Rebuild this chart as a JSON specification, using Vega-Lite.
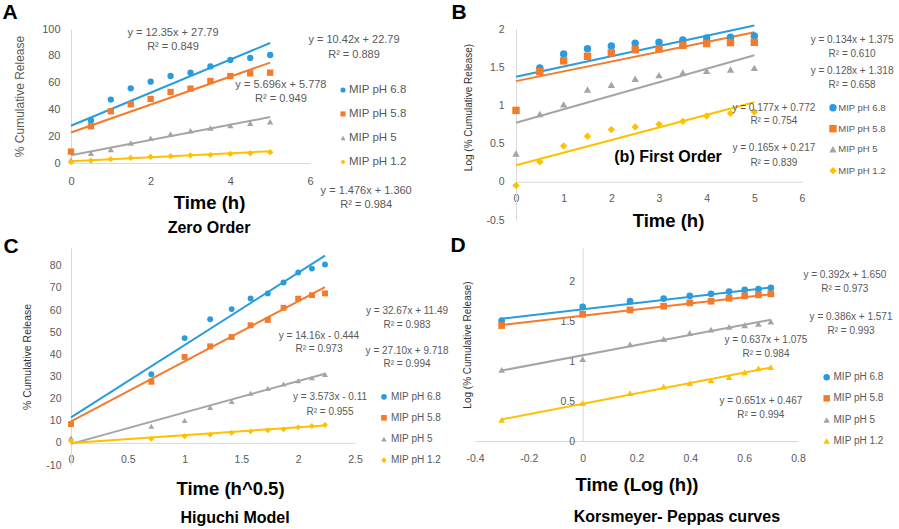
{
  "$schema": "https://vega.github.io/schema/vega-lite/v6.json",
  "autosize": {"type": "none"},
  "padding": {"left": 71, "top": 29, "right": 828, "bottom": 500},
  "background": "white",
  "config": {
    "view": {"stroke": null},
    "font": "Liberation Sans",
    "axis": {"grid": false, "ticks": false, "tickCount": 20, "labelOverlap": false, "labelFlush": false, "labelExpr": "'' + datum.value", "domainColor": "#D9D9D9", "domainWidth": 1, "labelColor": "#595959", "labelFont": "Liberation Sans", "titleFont": "Liberation Sans"}
  },
  "datasets": {
    "A_pts": [
      {"s": "MIP pH 6.8", "x": 0.5, "y": 31.8}, {"s": "MIP pH 6.8", "x": 1, "y": 47.3}, {"s": "MIP pH 6.8", "x": 1.5, "y": 55.7}, {"s": "MIP pH 6.8", "x": 2, "y": 60.7}, {"s": "MIP pH 6.8", "x": 2.5, "y": 64.9}, {"s": "MIP pH 6.8", "x": 3, "y": 67.4}, {"s": "MIP pH 6.8", "x": 3.5, "y": 72.1}, {"s": "MIP pH 6.8", "x": 4, "y": 76.9}, {"s": "MIP pH 6.8", "x": 4.5, "y": 78.4}, {"s": "MIP pH 6.8", "x": 5, "y": 80.6},
      {"s": "MIP pH 5.8", "x": 0, "y": 8.5}, {"s": "MIP pH 5.8", "x": 0.5, "y": 27.4}, {"s": "MIP pH 5.8", "x": 1, "y": 38.6}, {"s": "MIP pH 5.8", "x": 1.5, "y": 43.8}, {"s": "MIP pH 5.8", "x": 2, "y": 47.8}, {"s": "MIP pH 5.8", "x": 2.5, "y": 53.0}, {"s": "MIP pH 5.8", "x": 3, "y": 55.5}, {"s": "MIP pH 5.8", "x": 3.5, "y": 61.2}, {"s": "MIP pH 5.8", "x": 4, "y": 64.9}, {"s": "MIP pH 5.8", "x": 4.5, "y": 66.9}, {"s": "MIP pH 5.8", "x": 5, "y": 67.4},
      {"s": "MIP pH 5", "x": 0, "y": 2.3}, {"s": "MIP pH 5", "x": 0.5, "y": 7.2}, {"s": "MIP pH 5", "x": 1, "y": 10.0}, {"s": "MIP pH 5", "x": 1.5, "y": 15.0}, {"s": "MIP pH 5", "x": 2, "y": 18.4}, {"s": "MIP pH 5", "x": 2.5, "y": 21.6}, {"s": "MIP pH 5", "x": 3, "y": 24.1}, {"s": "MIP pH 5", "x": 3.5, "y": 26.1}, {"s": "MIP pH 5", "x": 4, "y": 27.9}, {"s": "MIP pH 5", "x": 4.5, "y": 29.6}, {"s": "MIP pH 5", "x": 5, "y": 30.8},
      {"s": "MIP pH 1.2", "x": 0, "y": 0.7}, {"s": "MIP pH 1.2", "x": 0.5, "y": 1.8}, {"s": "MIP pH 1.2", "x": 1, "y": 2.9}, {"s": "MIP pH 1.2", "x": 1.5, "y": 3.8}, {"s": "MIP pH 1.2", "x": 2, "y": 4.6}, {"s": "MIP pH 1.2", "x": 2.5, "y": 5.1}, {"s": "MIP pH 1.2", "x": 3, "y": 5.7}, {"s": "MIP pH 1.2", "x": 3.5, "y": 6.0}, {"s": "MIP pH 1.2", "x": 4, "y": 6.8}, {"s": "MIP pH 1.2", "x": 4.5, "y": 7.3}, {"s": "MIP pH 1.2", "x": 5, "y": 8.0}
    ],
    "A_lines": [
      {"s": "MIP pH 6.8", "x": 0, "y": 27.79}, {"s": "MIP pH 6.8", "x": 5, "y": 89.54},
      {"s": "MIP pH 5.8", "x": 0, "y": 22.79}, {"s": "MIP pH 5.8", "x": 5, "y": 74.89},
      {"s": "MIP pH 5", "x": 0, "y": 5.778}, {"s": "MIP pH 5", "x": 5, "y": 34.26},
      {"s": "MIP pH 1.2", "x": 0, "y": 1.36}, {"s": "MIP pH 1.2", "x": 5, "y": 8.74}
    ],
    "A_leg": [
      {"s": "MIP pH 6.8", "x": 6.829, "tx": 6.98, "y": 54.5}, {"s": "MIP pH 5.8", "x": 6.829, "tx": 6.98, "y": 36.6},
      {"s": "MIP pH 5", "x": 6.829, "tx": 6.98, "y": 18.7}, {"s": "MIP pH 1.2", "x": 6.829, "tx": 6.98, "y": 0.75}
    ],
    "A_eq": [
      {"x": 2.56, "y": 97.0, "t": "y = 12.35x + 27.79"}, {"x": 2.56, "y": 86.6, "t": "R² = 0.849"},
      {"x": 7.105, "y": 91.8, "t": "y = 10.42x + 22.79"}, {"x": 7.105, "y": 80.6, "t": "R² = 0.889"},
      {"x": 5.27, "y": 58.2, "t": "y = 5.696x + 5.778"}, {"x": 5.27, "y": 47.8, "t": "R² = 0.949"},
      {"x": 7.41, "y": -20.9, "t": "y = 1.476x + 1.360"}, {"x": 7.41, "y": -31.3, "t": "R² = 0.984"}
    ],
    "A_cap": [
      {"x": 3.465, "y": -48.5, "t": "Zero Order", "size": 16},
      {"x": -1.53, "y": 111.9, "t": "A", "size": 21}
    ],
    "B_pts": [
      {"s": "MIP pH 6.8", "x": 0.5, "y": 1.491}, {"s": "MIP pH 6.8", "x": 1, "y": 1.674}, {"s": "MIP pH 6.8", "x": 1.5, "y": 1.743}, {"s": "MIP pH 6.8", "x": 2, "y": 1.778}, {"s": "MIP pH 6.8", "x": 2.5, "y": 1.813}, {"s": "MIP pH 6.8", "x": 3, "y": 1.826}, {"s": "MIP pH 6.8", "x": 3.5, "y": 1.857}, {"s": "MIP pH 6.8", "x": 4, "y": 1.883}, {"s": "MIP pH 6.8", "x": 4.5, "y": 1.891}, {"s": "MIP pH 6.8", "x": 5, "y": 1.909},
      {"s": "MIP pH 5.8", "x": 0, "y": 0.935}, {"s": "MIP pH 5.8", "x": 0.5, "y": 1.443}, {"s": "MIP pH 5.8", "x": 1, "y": 1.583}, {"s": "MIP pH 5.8", "x": 1.5, "y": 1.643}, {"s": "MIP pH 5.8", "x": 2, "y": 1.687}, {"s": "MIP pH 5.8", "x": 2.5, "y": 1.730}, {"s": "MIP pH 5.8", "x": 3, "y": 1.739}, {"s": "MIP pH 5.8", "x": 3.5, "y": 1.787}, {"s": "MIP pH 5.8", "x": 4, "y": 1.809}, {"s": "MIP pH 5.8", "x": 4.5, "y": 1.822}, {"s": "MIP pH 5.8", "x": 5, "y": 1.826},
      {"s": "MIP pH 5", "x": 0, "y": 0.37}, {"s": "MIP pH 5", "x": 0.5, "y": 0.887}, {"s": "MIP pH 5", "x": 1, "y": 1.013}, {"s": "MIP pH 5", "x": 1.5, "y": 1.209}, {"s": "MIP pH 5", "x": 2, "y": 1.27}, {"s": "MIP pH 5", "x": 2.5, "y": 1.348}, {"s": "MIP pH 5", "x": 3, "y": 1.396}, {"s": "MIP pH 5", "x": 3.5, "y": 1.43}, {"s": "MIP pH 5", "x": 4, "y": 1.452}, {"s": "MIP pH 5", "x": 4.5, "y": 1.47}, {"s": "MIP pH 5", "x": 5, "y": 1.491},
      {"s": "MIP pH 1.2", "x": 0, "y": -0.048}, {"s": "MIP pH 1.2", "x": 0.5, "y": 0.261}, {"s": "MIP pH 1.2", "x": 1, "y": 0.47}, {"s": "MIP pH 1.2", "x": 1.5, "y": 0.596}, {"s": "MIP pH 1.2", "x": 2, "y": 0.683}, {"s": "MIP pH 1.2", "x": 2.5, "y": 0.717}, {"s": "MIP pH 1.2", "x": 3, "y": 0.752}, {"s": "MIP pH 1.2", "x": 3.5, "y": 0.791}, {"s": "MIP pH 1.2", "x": 4, "y": 0.861}, {"s": "MIP pH 1.2", "x": 4.5, "y": 0.896}, {"s": "MIP pH 1.2", "x": 5, "y": 0.913}
    ],
    "B_lines": [
      {"s": "MIP pH 6.8", "x": 0, "y": 1.375}, {"s": "MIP pH 6.8", "x": 5, "y": 2.045},
      {"s": "MIP pH 5.8", "x": 0, "y": 1.318}, {"s": "MIP pH 5.8", "x": 5, "y": 1.958},
      {"s": "MIP pH 5", "x": 0, "y": 0.772}, {"s": "MIP pH 5", "x": 5, "y": 1.657},
      {"s": "MIP pH 1.2", "x": 0, "y": 0.217}, {"s": "MIP pH 1.2", "x": 5, "y": 1.042}
    ],
    "B_leg": [
      {"s": "MIP pH 6.8", "x": 6.65, "tx": 6.76, "y": 0.970}, {"s": "MIP pH 5.8", "x": 6.65, "tx": 6.76, "y": 0.695},
      {"s": "MIP pH 5", "x": 6.65, "tx": 6.76, "y": 0.425}, {"s": "MIP pH 1.2", "x": 6.65, "tx": 6.76, "y": 0.145}
    ],
    "B_eq": [
      {"x": 7.05, "y": 1.856, "t": "y = 0.134x + 1.375"}, {"x": 7.05, "y": 1.673, "t": "R² = 0.610"},
      {"x": 7.05, "y": 1.45, "t": "y = 0.128x + 1.318"}, {"x": 7.05, "y": 1.267, "t": "R² = 0.658"},
      {"x": 5.41, "y": 0.966, "t": "y = 0.177x + 0.772"}, {"x": 5.41, "y": 0.796, "t": "R² = 0.754"},
      {"x": 5.41, "y": 0.442, "t": "y = 0.165x + 0.217"}, {"x": 5.41, "y": 0.246, "t": "R² = 0.839"}
    ],
    "B_cap": [
      {"x": 3.19, "y": 0.325, "t": "(b) First Order", "size": 16},
      {"x": -1.196, "y": 2.209, "t": "B", "size": 21}
    ],
    "C_pts": [
      {"s": "MIP pH 6.8", "x": 0.707, "y": 31.0}, {"s": "MIP pH 6.8", "x": 1, "y": 47.3}, {"s": "MIP pH 6.8", "x": 1.225, "y": 55.8}, {"s": "MIP pH 6.8", "x": 1.414, "y": 60.4}, {"s": "MIP pH 6.8", "x": 1.581, "y": 65.2}, {"s": "MIP pH 6.8", "x": 1.732, "y": 67.5}, {"s": "MIP pH 6.8", "x": 1.871, "y": 72.4}, {"s": "MIP pH 6.8", "x": 2, "y": 76.9}, {"s": "MIP pH 6.8", "x": 2.121, "y": 78.7}, {"s": "MIP pH 6.8", "x": 2.236, "y": 80.6},
      {"s": "MIP pH 5.8", "x": 0, "y": 8.5}, {"s": "MIP pH 5.8", "x": 0.707, "y": 27.6}, {"s": "MIP pH 5.8", "x": 1, "y": 38.8}, {"s": "MIP pH 5.8", "x": 1.225, "y": 43.6}, {"s": "MIP pH 5.8", "x": 1.414, "y": 47.8}, {"s": "MIP pH 5.8", "x": 1.581, "y": 53.1}, {"s": "MIP pH 5.8", "x": 1.732, "y": 55.5}, {"s": "MIP pH 5.8", "x": 1.871, "y": 61.0}, {"s": "MIP pH 5.8", "x": 2, "y": 65.1}, {"s": "MIP pH 5.8", "x": 2.121, "y": 66.7}, {"s": "MIP pH 5.8", "x": 2.236, "y": 67.5},
      {"s": "MIP pH 5", "x": 0, "y": 2.2}, {"s": "MIP pH 5", "x": 0.707, "y": 7.5}, {"s": "MIP pH 5", "x": 1, "y": 10.1}, {"s": "MIP pH 5", "x": 1.225, "y": 16.0}, {"s": "MIP pH 5", "x": 1.414, "y": 18.7}, {"s": "MIP pH 5", "x": 1.581, "y": 22.4}, {"s": "MIP pH 5", "x": 1.732, "y": 24.6}, {"s": "MIP pH 5", "x": 1.871, "y": 26.6}, {"s": "MIP pH 5", "x": 2, "y": 28.1}, {"s": "MIP pH 5", "x": 2.121, "y": 29.4}, {"s": "MIP pH 5", "x": 2.236, "y": 30.9},
      {"s": "MIP pH 1.2", "x": 0, "y": 0.8}, {"s": "MIP pH 1.2", "x": 0.707, "y": 1.8}, {"s": "MIP pH 1.2", "x": 1, "y": 3.0}, {"s": "MIP pH 1.2", "x": 1.225, "y": 3.7}, {"s": "MIP pH 1.2", "x": 1.414, "y": 4.6}, {"s": "MIP pH 1.2", "x": 1.581, "y": 5.2}, {"s": "MIP pH 1.2", "x": 1.732, "y": 5.7}, {"s": "MIP pH 1.2", "x": 1.871, "y": 6.1}, {"s": "MIP pH 1.2", "x": 2, "y": 7.0}, {"s": "MIP pH 1.2", "x": 2.121, "y": 7.6}, {"s": "MIP pH 1.2", "x": 2.236, "y": 8.1}
    ],
    "C_lines": [
      {"s": "MIP pH 6.8", "x": 0, "y": 11.49}, {"s": "MIP pH 6.8", "x": 2.236, "y": 84.54},
      {"s": "MIP pH 5.8", "x": 0, "y": 9.718}, {"s": "MIP pH 5.8", "x": 2.236, "y": 70.31},
      {"s": "MIP pH 5", "x": 0, "y": -0.444}, {"s": "MIP pH 5", "x": 2.236, "y": 31.22},
      {"s": "MIP pH 1.2", "x": 0, "y": -0.11}, {"s": "MIP pH 1.2", "x": 2.236, "y": 7.88}
    ],
    "C_leg": [
      {"s": "MIP pH 6.8", "x": 2.755, "tx": 2.817, "y": 20.8}, {"s": "MIP pH 5.8", "x": 2.755, "tx": 2.817, "y": 11.3},
      {"s": "MIP pH 5", "x": 2.755, "tx": 2.817, "y": 1.7}, {"s": "MIP pH 1.2", "x": 2.755, "tx": 2.817, "y": -7.8}
    ],
    "C_eq": [
      {"x": 2.958, "y": 59.5, "t": "y = 32.67x + 11.49"}, {"x": 2.958, "y": 53.2, "t": "R² = 0.983"},
      {"x": 2.183, "y": 48.3, "t": "y = 14.16x - 0.444"}, {"x": 2.183, "y": 42.4, "t": "R² = 0.973"},
      {"x": 2.958, "y": 41.5, "t": "y = 27.10x + 9.718"}, {"x": 2.958, "y": 35.6, "t": "R² = 0.994"},
      {"x": 2.28, "y": 20.7, "t": "y = 3.573x - 0.11"}, {"x": 2.28, "y": 13.9, "t": "R² = 0.955"}
    ],
    "C_cap": [
      {"x": 1.444, "y": -34.0, "t": "Higuchi Model", "size": 16},
      {"x": -0.528, "y": 88.4, "t": "C", "size": 21}
    ],
    "D_pts": [
      {"s": "MIP pH 6.8", "x": -0.301, "y": 1.509}, {"s": "MIP pH 6.8", "x": 0, "y": 1.681}, {"s": "MIP pH 6.8", "x": 0.176, "y": 1.753}, {"s": "MIP pH 6.8", "x": 0.301, "y": 1.786}, {"s": "MIP pH 6.8", "x": 0.398, "y": 1.82}, {"s": "MIP pH 6.8", "x": 0.477, "y": 1.845}, {"s": "MIP pH 6.8", "x": 0.544, "y": 1.874}, {"s": "MIP pH 6.8", "x": 0.602, "y": 1.895}, {"s": "MIP pH 6.8", "x": 0.653, "y": 1.904}, {"s": "MIP pH 6.8", "x": 0.699, "y": 1.92},
      {"s": "MIP pH 5.8", "x": -0.301, "y": 1.447}, {"s": "MIP pH 5.8", "x": 0, "y": 1.589}, {"s": "MIP pH 5.8", "x": 0.176, "y": 1.644}, {"s": "MIP pH 5.8", "x": 0.301, "y": 1.69}, {"s": "MIP pH 5.8", "x": 0.398, "y": 1.732}, {"s": "MIP pH 5.8", "x": 0.477, "y": 1.753}, {"s": "MIP pH 5.8", "x": 0.544, "y": 1.79}, {"s": "MIP pH 5.8", "x": 0.602, "y": 1.82}, {"s": "MIP pH 5.8", "x": 0.653, "y": 1.832}, {"s": "MIP pH 5.8", "x": 0.699, "y": 1.845},
      {"s": "MIP pH 5", "x": -0.301, "y": 0.893}, {"s": "MIP pH 5", "x": 0, "y": 1.027}, {"s": "MIP pH 5", "x": 0.176, "y": 1.212}, {"s": "MIP pH 5", "x": 0.301, "y": 1.279}, {"s": "MIP pH 5", "x": 0.398, "y": 1.354}, {"s": "MIP pH 5", "x": 0.477, "y": 1.396}, {"s": "MIP pH 5", "x": 0.544, "y": 1.43}, {"s": "MIP pH 5", "x": 0.602, "y": 1.451}, {"s": "MIP pH 5", "x": 0.653, "y": 1.468}, {"s": "MIP pH 5", "x": 0.699, "y": 1.497},
      {"s": "MIP pH 1.2", "x": -0.301, "y": 0.264}, {"s": "MIP pH 1.2", "x": 0, "y": 0.474}, {"s": "MIP pH 1.2", "x": 0.176, "y": 0.6}, {"s": "MIP pH 1.2", "x": 0.301, "y": 0.683}, {"s": "MIP pH 1.2", "x": 0.398, "y": 0.725}, {"s": "MIP pH 1.2", "x": 0.477, "y": 0.759}, {"s": "MIP pH 1.2", "x": 0.544, "y": 0.8}, {"s": "MIP pH 1.2", "x": 0.602, "y": 0.86}, {"s": "MIP pH 1.2", "x": 0.653, "y": 0.91}, {"s": "MIP pH 1.2", "x": 0.699, "y": 0.927}
    ],
    "D_lines": [
      {"s": "MIP pH 6.8", "x": -0.301, "y": 1.532}, {"s": "MIP pH 6.8", "x": 0.699, "y": 1.924},
      {"s": "MIP pH 5.8", "x": -0.301, "y": 1.455}, {"s": "MIP pH 5.8", "x": 0.699, "y": 1.841},
      {"s": "MIP pH 5", "x": -0.301, "y": 0.883}, {"s": "MIP pH 5", "x": 0.699, "y": 1.520},
      {"s": "MIP pH 1.2", "x": -0.301, "y": 0.271}, {"s": "MIP pH 1.2", "x": 0.699, "y": 0.922}
    ],
    "D_leg": [
      {"s": "MIP pH 6.8", "x": 0.9065, "tx": 0.932, "y": 0.799}, {"s": "MIP pH 5.8", "x": 0.9065, "tx": 0.932, "y": 0.535},
      {"s": "MIP pH 5", "x": 0.9065, "tx": 0.932, "y": 0.263}, {"s": "MIP pH 1.2", "x": 0.9065, "tx": 0.932, "y": 0.0}
    ],
    "D_eq": [
      {"x": 0.974, "y": 2.082, "t": "y = 0.392x + 1.650"}, {"x": 0.974, "y": 1.906, "t": "R² = 0.973"},
      {"x": 0.997, "y": 1.555, "t": "y = 0.386x + 1.571"}, {"x": 0.997, "y": 1.379, "t": "R² = 0.993"},
      {"x": 0.681, "y": 1.266, "t": "y = 0.637x + 1.075"}, {"x": 0.681, "y": 1.091, "t": "R² = 0.984"},
      {"x": 0.662, "y": 0.502, "t": "y = 0.651x + 0.467"}, {"x": 0.662, "y": 0.326, "t": "R² = 0.994"}
    ],
    "D_cap": [
      {"x": 0.35, "y": -0.953, "t": "Korsmeyer- Peppas curves", "size": 16},
      {"x": -0.463, "y": 2.445, "t": "D", "size": 21}
    ]
  },
  "spacing": 219,
  "bounds": "flush",
  "resolve": {"scale": {"color": "independent", "shape": "independent", "stroke": "independent"}},
  "vconcat": [
    {
      "spacing": 206,
      "bounds": "flush",
      "resolve": {"scale": {"color": "independent", "shape": "independent", "stroke": "independent"}},
      "hconcat": [
        {
          "width": 239,
          "height": 134,
          "layer": [
            {
              "data": {"name": "A_lines"},
              "mark": {"type": "line", "strokeWidth": 2},
              "encoding": {
                "x": {"field": "x", "type": "quantitative", "scale": {"domain": [0, 6], "nice": false, "zero": false},
                  "axis": {"values": [0, 2, 4, 6], "tickCount": 20, "labelOverlap": false, "labelExpr": "'' + datum.value", "title": "Time (h)", "titleFontSize": 18.5, "titleFontWeight": "bold", "titleColor": "#000000", "labelFontSize": 11, "labelPadding": 12, "titlePadding": 7, "titleX": 138}},
                "y": {"field": "y", "type": "quantitative", "scale": {"domain": [0, 100], "nice": false, "zero": false},
                  "axis": {"values": [0, 20, 40, 60, 80, 100], "tickCount": 20, "labelOverlap": false, "labelExpr": "'' + datum.value", "title": "% Cumulative Release", "titleFontSize": 12, "titleFontWeight": "normal", "titleColor": "#595959", "labelFontSize": 11, "labelPadding": 11, "titlePadding": 15}},
                "stroke": {"field": "s", "type": "nominal", "scale": {"domain": ["MIP pH 6.8", "MIP pH 5.8", "MIP pH 5", "MIP pH 1.2"], "range": ["#2A9BDC", "#F47A2C", "#A5A5A5", "#FFC000"]}, "legend": null},
                "detail": {"field": "s"}
              }
            },
            {
              "data": {"name": "A_pts"},
              "mark": {"type": "point", "filled": true, "opacity": 1, "size": 40},
              "encoding": {
                "x": {"field": "x", "type": "quantitative"},
                "y": {"field": "y", "type": "quantitative"},
                "color": {"field": "s", "type": "nominal", "scale": {"domain": ["MIP pH 6.8", "MIP pH 5.8", "MIP pH 5", "MIP pH 1.2"], "range": ["#2A9BDC", "#F47A2C", "#A5A5A5", "#FFC000"]}, "legend": null},
                "shape": {"field": "s", "type": "nominal", "scale": {"domain": ["MIP pH 6.8", "MIP pH 5.8", "MIP pH 5", "MIP pH 1.2"], "range": ["circle", "square", "triangle-up", "diamond"]}, "legend": null}
              }
            },
            {
              "data": {"name": "A_leg"},
              "mark": {"type": "point", "filled": true, "opacity": 1, "size": 26},
              "encoding": {
                "x": {"field": "x", "type": "quantitative"},
                "y": {"field": "y", "type": "quantitative"},
                "color": {"field": "s", "type": "nominal", "legend": null},
                "shape": {"field": "s", "type": "nominal", "legend": null}
              }
            },
            {
              "data": {"name": "A_leg"},
              "mark": {"type": "text", "fontSize": 11.5, "color": "#595959", "align": "left", "baseline": "middle"},
              "encoding": {"x": {"field": "tx", "type": "quantitative"}, "y": {"field": "y", "type": "quantitative"}, "text": {"field": "s"}}
            },
            {
              "data": {"name": "A_eq"},
              "mark": {"type": "text", "fontSize": 11, "color": "#595959", "align": "center", "baseline": "middle"},
              "encoding": {"x": {"field": "x", "type": "quantitative"}, "y": {"field": "y", "type": "quantitative"}, "text": {"field": "t"}}
            },
            {
              "data": {"name": "A_cap"},
              "mark": {"type": "text", "fontWeight": "bold", "color": "#000000", "align": "center", "baseline": "middle"},
              "encoding": {"x": {"field": "x", "type": "quantitative"}, "y": {"field": "y", "type": "quantitative"}, "text": {"field": "t"}, "size": {"field": "size", "type": "quantitative", "scale": null}}
            }
          ]
        },
        {
          "width": 286,
          "height": 191,
          "layer": [
            {
              "data": {"name": "B_lines"},
              "mark": {"type": "line", "strokeWidth": 2},
              "encoding": {
                "x": {"field": "x", "type": "quantitative", "scale": {"domain": [0, 6], "nice": false, "zero": false},
                  "axis": {"values": [0, 1, 2, 3, 4, 5, 6], "tickCount": 20, "labelOverlap": false, "labelExpr": "'' + datum.value", "offset": -38.2, "title": "Time (h)", "titleFontSize": 18.5, "titleFontWeight": "bold", "titleColor": "#000000", "labelFontSize": 10.5, "labelPadding": 12, "titlePadding": 7, "titleX": 152}},
                "y": {"field": "y", "type": "quantitative", "scale": {"domain": [-0.5, 2], "nice": false, "zero": false},
                  "axis": {"values": [-0.5, 0, 0.5, 1, 1.5, 2], "tickCount": 20, "labelOverlap": false, "labelExpr": "'' + datum.value", "title": "Log (% Cumulative Release)", "titleFontSize": 10, "titleFontWeight": "normal", "titleColor": "#333333", "labelFontSize": 10.5, "labelPadding": 12, "titlePadding": 12, "titleY": 78}},
                "stroke": {"field": "s", "type": "nominal", "scale": {"domain": ["MIP pH 6.8", "MIP pH 5.8", "MIP pH 5", "MIP pH 1.2"], "range": ["#2A9BDC", "#F47A2C", "#A5A5A5", "#FFC000"]}, "legend": null},
                "detail": {"field": "s"}
              }
            },
            {
              "data": {"name": "B_pts"},
              "mark": {"type": "point", "filled": true, "opacity": 1, "size": 55},
              "encoding": {
                "x": {"field": "x", "type": "quantitative"},
                "y": {"field": "y", "type": "quantitative"},
                "color": {"field": "s", "type": "nominal", "scale": {"domain": ["MIP pH 6.8", "MIP pH 5.8", "MIP pH 5", "MIP pH 1.2"], "range": ["#2A9BDC", "#F47A2C", "#A5A5A5", "#FFC000"]}, "legend": null},
                "shape": {"field": "s", "type": "nominal", "scale": {"domain": ["MIP pH 6.8", "MIP pH 5.8", "MIP pH 5", "MIP pH 1.2"], "range": ["circle", "square", "triangle-up", "diamond"]}, "legend": null}
              }
            },
            {
              "data": {"name": "B_leg"},
              "mark": {"type": "point", "filled": true, "opacity": 1, "size": 55},
              "encoding": {
                "x": {"field": "x", "type": "quantitative"},
                "y": {"field": "y", "type": "quantitative"},
                "color": {"field": "s", "type": "nominal", "legend": null},
                "shape": {"field": "s", "type": "nominal", "legend": null}
              }
            },
            {
              "data": {"name": "B_leg"},
              "mark": {"type": "text", "fontSize": 9.5, "color": "#595959", "align": "left", "baseline": "middle"},
              "encoding": {"x": {"field": "tx", "type": "quantitative"}, "y": {"field": "y", "type": "quantitative"}, "text": {"field": "s"}}
            },
            {
              "data": {"name": "B_eq"},
              "mark": {"type": "text", "fontSize": 10, "color": "#595959", "align": "center", "baseline": "middle"},
              "encoding": {"x": {"field": "x", "type": "quantitative"}, "y": {"field": "y", "type": "quantitative"}, "text": {"field": "t"}}
            },
            {
              "data": {"name": "B_cap"},
              "mark": {"type": "text", "fontWeight": "bold", "color": "#000000", "align": "center", "baseline": "middle"},
              "encoding": {"x": {"field": "x", "type": "quantitative"}, "y": {"field": "y", "type": "quantitative"}, "text": {"field": "t"}, "size": {"field": "size", "type": "quantitative", "scale": null}}
            }
          ]
        }
      ]
    },
    {
      "spacing": 120,
      "bounds": "flush",
      "resolve": {"scale": {"color": "independent", "shape": "independent", "stroke": "independent"}},
      "hconcat": [
        {
          "width": 284,
          "height": 217,
          "layer": [
            {
              "data": {"name": "C_lines"},
              "mark": {"type": "line", "strokeWidth": 2},
              "encoding": {
                "x": {"field": "x", "type": "quantitative", "scale": {"domain": [0, 2.5], "nice": false, "zero": false},
                  "axis": {"values": [0, 0.5, 1, 1.5, 2, 2.5], "tickCount": 20, "labelOverlap": false, "labelExpr": "'' + datum.value", "offset": -22.1, "title": "Time (h^0.5)", "titleFontSize": 18.5, "titleFontWeight": "bold", "titleColor": "#000000", "labelFontSize": 10.5, "labelPadding": 12, "titlePadding": 14, "titleX": 159}},
                "y": {"field": "y", "type": "quantitative", "scale": {"domain": [-10, 88], "nice": false, "zero": false},
                  "axis": {"values": [-10, 0, 10, 20, 30, 40, 50, 60, 70, 80], "tickCount": 20, "labelOverlap": false, "labelExpr": "'' + datum.value", "title": "% Cumulative Release", "titleFontSize": 10.5, "titleFontWeight": "normal", "titleColor": "#333333", "labelFontSize": 10.5, "labelPadding": 10, "titlePadding": 13}},
                "stroke": {"field": "s", "type": "nominal", "scale": {"domain": ["MIP pH 6.8", "MIP pH 5.8", "MIP pH 5", "MIP pH 1.2"], "range": ["#2A9BDC", "#F47A2C", "#A5A5A5", "#FFC000"]}, "legend": null},
                "detail": {"field": "s"}
              }
            },
            {
              "data": {"name": "C_pts"},
              "mark": {"type": "point", "filled": true, "opacity": 1, "size": 35},
              "encoding": {
                "x": {"field": "x", "type": "quantitative"},
                "y": {"field": "y", "type": "quantitative"},
                "color": {"field": "s", "type": "nominal", "scale": {"domain": ["MIP pH 6.8", "MIP pH 5.8", "MIP pH 5", "MIP pH 1.2"], "range": ["#2A9BDC", "#F47A2C", "#A5A5A5", "#FFC000"]}, "legend": null},
                "shape": {"field": "s", "type": "nominal", "scale": {"domain": ["MIP pH 6.8", "MIP pH 5.8", "MIP pH 5", "MIP pH 1.2"], "range": ["circle", "square", "triangle-up", "diamond"]}, "legend": null}
              }
            },
            {
              "data": {"name": "C_leg"},
              "mark": {"type": "point", "filled": true, "opacity": 1, "size": 32},
              "encoding": {
                "x": {"field": "x", "type": "quantitative"},
                "y": {"field": "y", "type": "quantitative"},
                "color": {"field": "s", "type": "nominal", "legend": null},
                "shape": {"field": "s", "type": "nominal", "legend": null}
              }
            },
            {
              "data": {"name": "C_leg"},
              "mark": {"type": "text", "fontSize": 10, "color": "#595959", "align": "left", "baseline": "middle"},
              "encoding": {"x": {"field": "tx", "type": "quantitative"}, "y": {"field": "y", "type": "quantitative"}, "text": {"field": "s"}}
            },
            {
              "data": {"name": "C_eq"},
              "mark": {"type": "text", "fontSize": 10, "color": "#595959", "align": "center", "baseline": "middle"},
              "encoding": {"x": {"field": "x", "type": "quantitative"}, "y": {"field": "y", "type": "quantitative"}, "text": {"field": "t"}}
            },
            {
              "data": {"name": "C_cap"},
              "mark": {"type": "text", "fontWeight": "bold", "color": "#000000", "align": "center", "baseline": "middle"},
              "encoding": {"x": {"field": "x", "type": "quantitative"}, "y": {"field": "y", "type": "quantitative"}, "text": {"field": "t"}, "size": {"field": "size", "type": "quantitative", "scale": null}}
            }
          ]
        },
        {
          "width": 323,
          "height": 193,
          "layer": [
            {
              "data": {"name": "D_lines"},
              "mark": {"type": "line", "strokeWidth": 2},
              "encoding": {
                "x": {"field": "x", "type": "quantitative", "scale": {"domain": [-0.4, 0.8], "nice": false, "zero": false},
                  "axis": {"values": [-0.4, -0.2, 0, 0.2, 0.4, 0.6, 0.8], "tickCount": 20, "labelOverlap": false, "labelExpr": "'' + datum.value", "title": "Time (Log (h))", "titleFontSize": 18.5, "titleFontWeight": "bold", "titleColor": "#000000", "labelFontSize": 10.5, "labelPadding": 12, "titlePadding": 12}},
                "y": {"field": "y", "type": "quantitative", "scale": {"domain": [0, 2.42], "nice": false, "zero": false},
                  "axis": {"values": [0, 0.5, 1, 1.5, 2], "tickCount": 20, "labelOverlap": false, "labelExpr": "'' + datum.value", "offset": -107.7, "title": "Log (% Cumulative Release)", "titleFontSize": 10, "titleFontWeight": "normal", "titleColor": "#333333", "labelFontSize": 10.5, "labelPadding": 8, "titleX": -110}},
                "stroke": {"field": "s", "type": "nominal", "scale": {"domain": ["MIP pH 6.8", "MIP pH 5.8", "MIP pH 5", "MIP pH 1.2"], "range": ["#2A9BDC", "#F47A2C", "#A5A5A5", "#FFC000"]}, "legend": null},
                "detail": {"field": "s"}
              }
            },
            {
              "data": {"name": "D_pts"},
              "mark": {"type": "point", "filled": true, "opacity": 1, "size": 45},
              "encoding": {
                "x": {"field": "x", "type": "quantitative"},
                "y": {"field": "y", "type": "quantitative"},
                "color": {"field": "s", "type": "nominal", "scale": {"domain": ["MIP pH 6.8", "MIP pH 5.8", "MIP pH 5", "MIP pH 1.2"], "range": ["#2A9BDC", "#F47A2C", "#A5A5A5", "#FFC000"]}, "legend": null},
                "shape": {"field": "s", "type": "nominal", "scale": {"domain": ["MIP pH 6.8", "MIP pH 5.8", "MIP pH 5", "MIP pH 1.2"], "range": ["circle", "square", "triangle-up", "triangle-up"]}, "legend": null}
              }
            },
            {
              "data": {"name": "D_leg"},
              "mark": {"type": "point", "filled": true, "opacity": 1, "size": 42},
              "encoding": {
                "x": {"field": "x", "type": "quantitative"},
                "y": {"field": "y", "type": "quantitative"},
                "color": {"field": "s", "type": "nominal", "legend": null},
                "shape": {"field": "s", "type": "nominal", "legend": null}
              }
            },
            {
              "data": {"name": "D_leg"},
              "mark": {"type": "text", "fontSize": 10, "color": "#595959", "align": "left", "baseline": "middle"},
              "encoding": {"x": {"field": "tx", "type": "quantitative"}, "y": {"field": "y", "type": "quantitative"}, "text": {"field": "s"}}
            },
            {
              "data": {"name": "D_eq"},
              "mark": {"type": "text", "fontSize": 10, "color": "#595959", "align": "center", "baseline": "middle"},
              "encoding": {"x": {"field": "x", "type": "quantitative"}, "y": {"field": "y", "type": "quantitative"}, "text": {"field": "t"}}
            },
            {
              "data": {"name": "D_cap"},
              "mark": {"type": "text", "fontWeight": "bold", "color": "#000000", "align": "center", "baseline": "middle"},
              "encoding": {"x": {"field": "x", "type": "quantitative"}, "y": {"field": "y", "type": "quantitative"}, "text": {"field": "t"}, "size": {"field": "size", "type": "quantitative", "scale": null}}
            }
          ]
        }
      ]
    }
  ]
}
